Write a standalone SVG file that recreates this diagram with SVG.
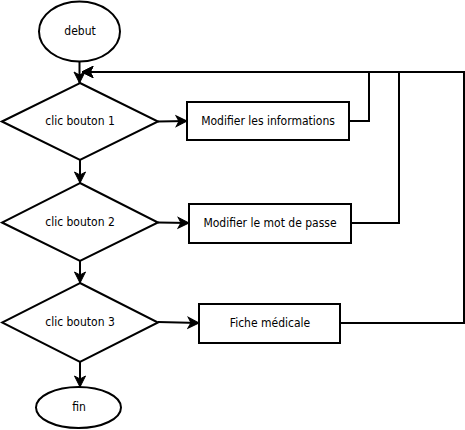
<svg xmlns="http://www.w3.org/2000/svg" width="465" height="430" viewBox="0 0 465 430">
<style>
.s{fill:#fff;stroke:#000;stroke-width:2}
.t{font-family:"DejaVu Sans Condensed","DejaVu Sans",Verdana,sans-serif;font-stretch:condensed;font-size:12px;fill:#000;text-anchor:middle;dominant-baseline:central}
.c{fill:none;stroke:#000;stroke-width:2;marker-end:url(#a)}
</style>
<defs>
<marker id="a" markerUnits="userSpaceOnUse" markerWidth="14" markerHeight="14" viewBox="0 0 14 14" refX="12" refY="7" orient="auto">
<path d="M1,1.5 L12,7 L1,12.5 L4,7 Z" fill="#000" stroke="#000" stroke-width="1"/>
</marker>
</defs>
<g id="connectors">
<path class="c" d="M79.5,62 L79.5,83"/>
<path class="c" d="M158,121.5 L187,121"/>
<path class="c" d="M80,160 L80,183"/>
<path class="c" d="M158,222.5 L189,223"/>
<path class="c" d="M80,261 L80,283"/>
<path class="c" d="M158,322 L199,323"/>
<path class="c" d="M80,362 L80,387"/>
<path class="c" d="M349,121 L369,121 L369,72 L82,72"/>
<path class="c" d="M351,223 L399,223 L399,72 L82,72"/>
<path class="c" d="M340,323 L464,323 L464,72 L82,72"/>
</g>
<g id="debut"><ellipse class="s" cx="79.5" cy="31.5" rx="40.5" ry="30"/><text class="t" x="80" y="31">debut</text></g>
<g id="d1"><polygon class="s" points="80,83 158,121.5 80,160 2,121.5"/><text class="t" x="80" y="121">clic bouton 1</text></g>
<g id="b1"><rect class="s" x="187" y="102" width="162" height="38"/><text class="t" x="268" y="121">Modifier les informations</text></g>
<g id="d2"><polygon class="s" points="80,183 158,222.5 80,261 2,222.5"/><text class="t" x="80" y="222">clic bouton 2</text></g>
<g id="b2"><rect class="s" x="189" y="204" width="162" height="39"/><text class="t" x="270" y="223">Modifier le mot de passe</text></g>
<g id="d3"><polygon class="s" points="80,283 158,322.5 80,362 2,322.5"/><text class="t" x="80" y="322">clic bouton 3</text></g>
<g id="b3"><rect class="s" x="199" y="304" width="141" height="39"/><text class="t" x="270" y="323">Fiche médicale</text></g>
<g id="fin"><ellipse class="s" cx="78.5" cy="407.5" rx="42.5" ry="20.5"/><text class="t" x="79" y="407">fin</text></g>
</svg>
